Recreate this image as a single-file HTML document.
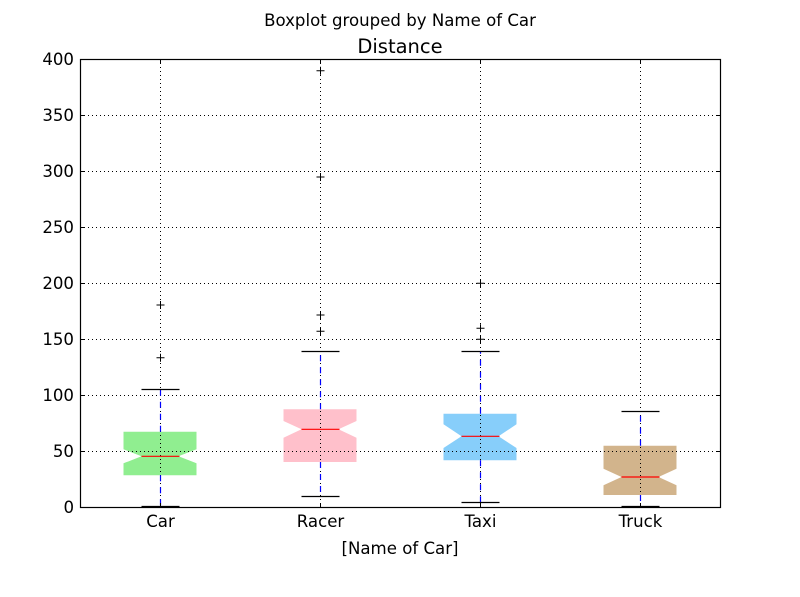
<!DOCTYPE html>
<html><head><meta charset="utf-8"><style>
html,body{margin:0;padding:0;background:#fff;}
svg{display:block;}
text{font-family:"DejaVu Sans","Liberation Sans",sans-serif;fill:#000;}
</style></head><body>
<svg width="800" height="597" viewBox="0 0 800 597" xmlns="http://www.w3.org/2000/svg">
<rect x="0" y="0" width="800" height="597" fill="#fff"/>
<text x="400" y="26" font-size="16.6" text-anchor="middle">Boxplot grouped by Name of Car</text>
<text x="400" y="53" font-size="19.5" text-anchor="middle">Distance</text>

<!-- boxes -->
<g stroke="none">
<path d="M123.5,431.7 H196.5 V449.3 L178.5,456.3 L196.5,463.3 V475.3 H123.5 V463.3 L141.5,456.3 L123.5,449.3 Z" fill="#90EE90"/>
<path d="M283.5,409.3 H356.5 V421 L338.5,429.3 L356.5,437.7 V462 H283.5 V437.7 L301.5,429.3 L283.5,421 Z" fill="#FFC0CB"/>
<path d="M443.5,413.7 H516.5 V424.3 L498.5,436.3 L516.5,448 V460.3 H443.5 V448 L461.5,436.3 L443.5,424.3 Z" fill="#87CEFA"/>
<path d="M603.5,445.7 H676.5 V468.7 L658.5,477 L676.5,485.3 V495 H603.5 V485.3 L621.5,477 L603.5,468.7 Z" fill="#D2B48C"/>
</g>

<!-- grid -->
<g stroke="#000" stroke-width="1" stroke-dasharray="1,3" fill="none">
<line x1="80" y1="451.5" x2="720" y2="451.5"/>
<line x1="80" y1="395.5" x2="720" y2="395.5"/>
<line x1="80" y1="339.5" x2="720" y2="339.5"/>
<line x1="80" y1="283.5" x2="720" y2="283.5"/>
<line x1="80" y1="227.5" x2="720" y2="227.5"/>
<line x1="80" y1="171.5" x2="720" y2="171.5"/>
<line x1="80" y1="115.5" x2="720" y2="115.5"/>
<line x1="160.5" y1="59" x2="160.5" y2="507"/>
<line x1="320.5" y1="59" x2="320.5" y2="507"/>
<line x1="480.5" y1="59" x2="480.5" y2="507"/>
<line x1="640.5" y1="59" x2="640.5" y2="507"/>
</g>

<!-- whiskers -->
<g stroke="#0000ff" stroke-width="1.2" stroke-dasharray="6,6" fill="none">
<line x1="160.5" y1="431.7" x2="160.5" y2="389.5"/>
<line x1="160.5" y1="475.3" x2="160.5" y2="507"/>
<line x1="320.5" y1="409.3" x2="320.5" y2="351.5"/>
<line x1="320.5" y1="462" x2="320.5" y2="496"/>
<line x1="480.5" y1="413.7" x2="480.5" y2="351.5"/>
<line x1="480.5" y1="460.3" x2="480.5" y2="502"/>
<line x1="640.5" y1="445.7" x2="640.5" y2="411.5"/>
<line x1="640.5" y1="495" x2="640.5" y2="507"/>
</g>

<!-- caps -->
<g stroke="#000" stroke-width="1.2" fill="none">
<line x1="141.5" y1="389.5" x2="179.5" y2="389.5"/>
<line x1="141.5" y1="506.5" x2="179.5" y2="506.5"/>
<line x1="301.5" y1="351.5" x2="339.5" y2="351.5"/>
<line x1="301.5" y1="496.5" x2="339.5" y2="496.5"/>
<line x1="461.5" y1="351.5" x2="499.5" y2="351.5"/>
<line x1="461.5" y1="502.5" x2="499.5" y2="502.5"/>
<line x1="621.5" y1="411.5" x2="659.5" y2="411.5"/>
<line x1="621.5" y1="506.5" x2="659.5" y2="506.5"/>
</g>

<!-- medians -->
<g stroke="#ff0000" stroke-width="1.2" fill="none">
<line x1="141.5" y1="456.3" x2="179.5" y2="456.3"/>
<line x1="301.5" y1="429.3" x2="339.5" y2="429.3"/>
<line x1="461.5" y1="436.3" x2="499.5" y2="436.3"/>
<line x1="621.5" y1="477" x2="659.5" y2="477"/>
</g>

<!-- fliers -->
<g stroke="#000" stroke-width="1" fill="none">
<path d="M156.5,305 h8 M160.5,301 v8"/>
<path d="M156.5,357.7 h8 M160.5,353.7 v8"/>
<path d="M316.5,70.7 h8 M320.5,66.7 v8"/>
<path d="M316.5,177 h8 M320.5,173 v8"/>
<path d="M316.5,315 h8 M320.5,311 v8"/>
<path d="M316.5,331.3 h8 M320.5,327.3 v8"/>
<path d="M476.5,283.3 h8 M480.5,279.3 v8"/>
<path d="M476.5,328.3 h8 M480.5,324.3 v8"/>
<path d="M476.5,339.3 h8 M480.5,335.3 v8"/>
</g>

<!-- ticks -->
<g stroke="#000" stroke-width="1" fill="none">
<path d="M80,451.5 h4 M80,395.5 h4 M80,339.5 h4 M80,283.5 h4 M80,227.5 h4 M80,171.5 h4 M80,115.5 h4"/>
<path d="M720,451.5 h-4 M720,395.5 h-4 M720,339.5 h-4 M720,283.5 h-4 M720,227.5 h-4 M720,171.5 h-4 M720,115.5 h-4"/>
<path d="M160.5,507 v-4 M320.5,507 v-4 M480.5,507 v-4 M640.5,507 v-4"/>
<path d="M160.5,59 v4 M320.5,59 v4 M480.5,59 v4 M640.5,59 v4"/>
</g>

<!-- spines -->
<rect x="80.5" y="59.5" width="640" height="448" fill="none" stroke="#000" stroke-width="1.2"/>

<!-- y tick labels -->
<g font-size="16.6" text-anchor="end">
<text x="74" y="513">0</text>
<text x="74" y="457">50</text>
<text x="74" y="401">100</text>
<text x="74" y="345">150</text>
<text x="74" y="289">200</text>
<text x="74" y="233">250</text>
<text x="74" y="177">300</text>
<text x="74" y="121">350</text>
<text x="74" y="65">400</text>
</g>
<!-- x tick labels -->
<g font-size="16.6" text-anchor="middle">
<text x="160.5" y="527">Car</text>
<text x="320.5" y="527">Racer</text>
<text x="480.5" y="527">Taxi</text>
<text x="640.5" y="527">Truck</text>
<text x="400" y="554">[Name of Car]</text>
</g>
</svg>
</body></html>
